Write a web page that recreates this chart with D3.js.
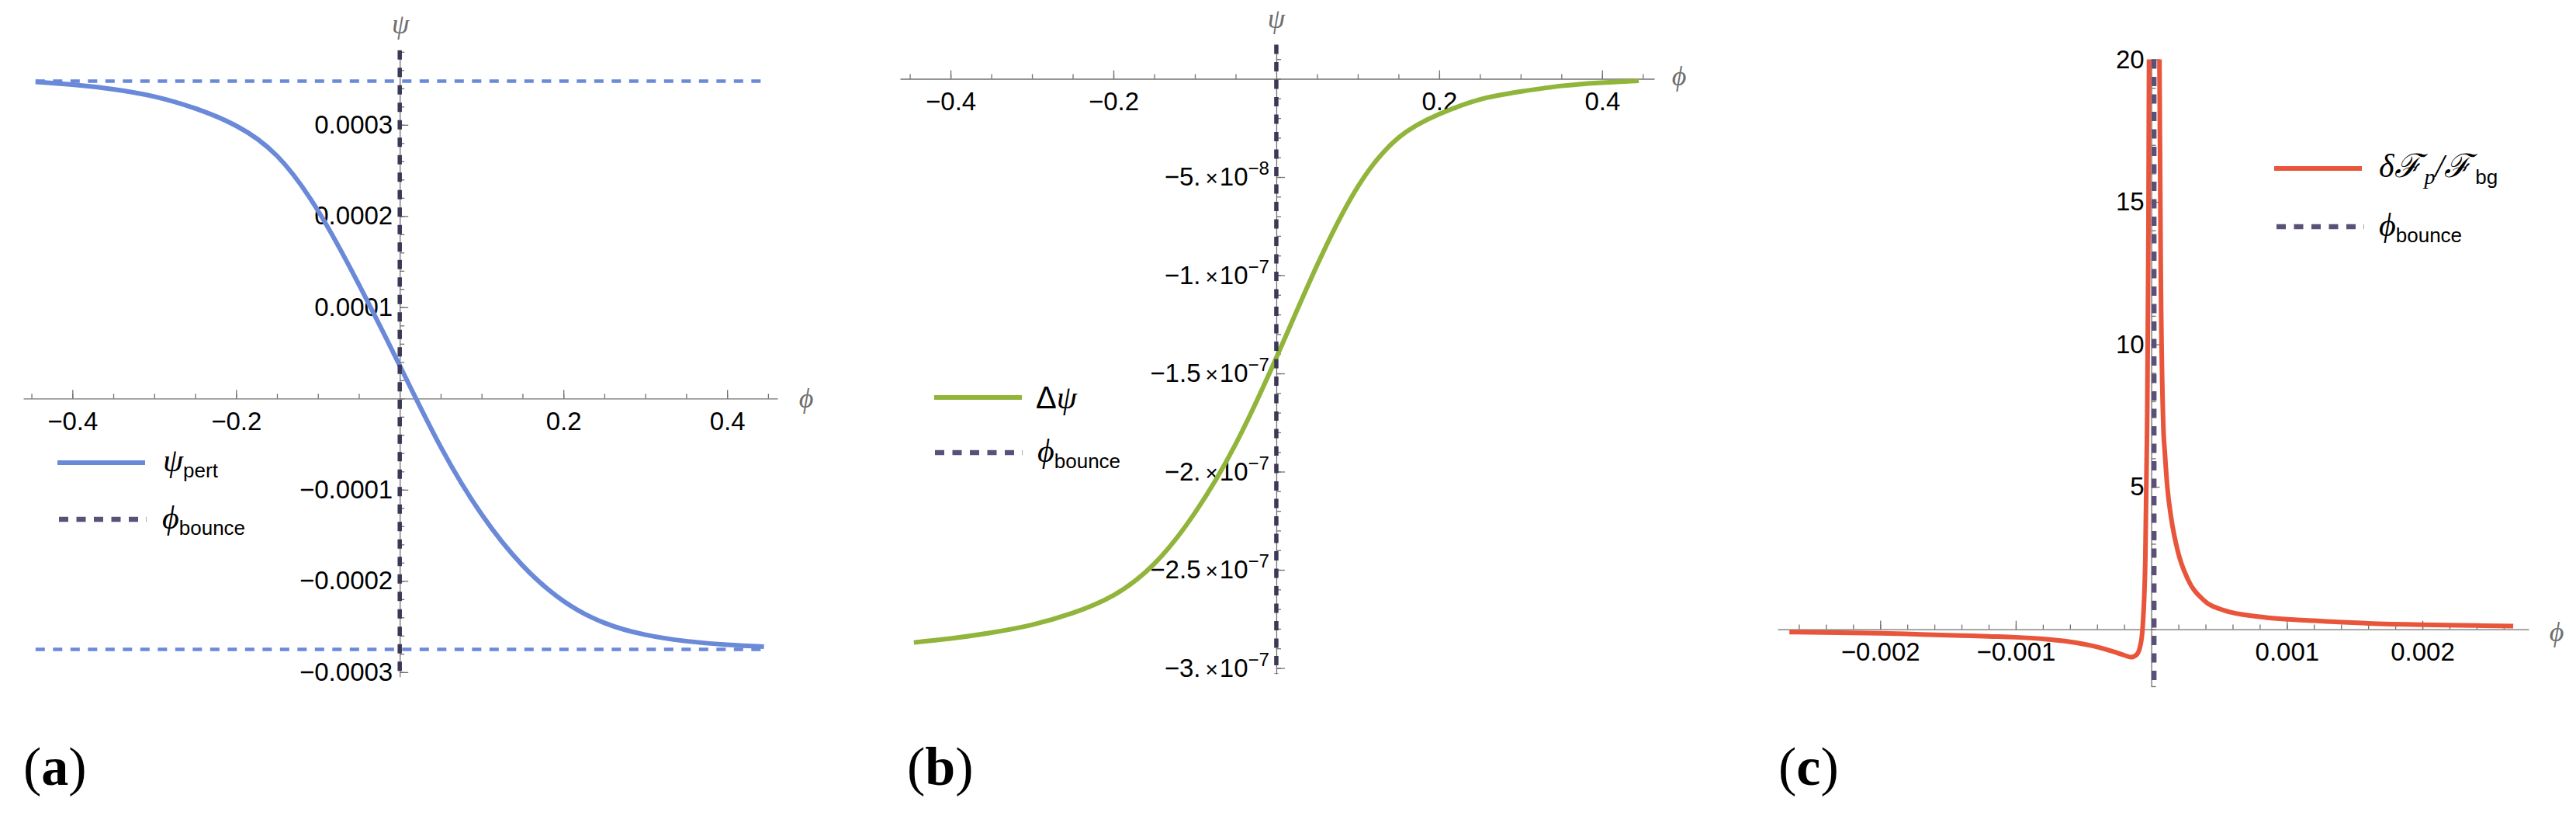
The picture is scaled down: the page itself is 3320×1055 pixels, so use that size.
<!DOCTYPE html>
<html>
<head>
<meta charset="utf-8">
<script src="https://cdn.jsdelivr.net/npm/d3@7"></script>
<style>
  body { margin: 0; background: #fff; }
  svg { display: block; background: #fff; }
</style>
</head>
<body>
<svg></svg>
<script>
const [svgWidth, svgHeight] = [3320, 1055];
const svg = d3.select('svg')
  .attr('width', svgWidth)
  .attr('height', svgHeight);

// ---------- data: panel (a)
const phiA = [-0.445, -0.4, -0.35, -0.3, -0.25, -0.2, -0.15, -0.1, -0.05, 0, 0.05, 0.1, 0.15, 0.2, 0.25, 0.3, 0.35, 0.4, 0.445];
const psiPert = [3.47e-4, 3.44e-4, 3.39e-4, 3.31e-4, 3.18e-4, 2.99e-4, 2.66e-4, 2.06e-4, 1.25e-4, 0.36e-4,
  -0.53e-4, -1.27e-4, -1.83e-4, -2.22e-4, -2.46e-4, -2.59e-4, -2.66e-4, -2.70e-4, -2.72e-4];
const psiLimits = [3.48e-4, -2.75e-4];
const xTicksA = [-0.4, -0.2, 0.2, 0.4];
const yTicksA = [-3e-4, -2e-4, -1e-4, 1e-4, 2e-4, 3e-4];

// ---------- data: panel (b)
const phiB = [-0.445, -0.4, -0.35, -0.3, -0.25, -0.2, -0.15, -0.1, -0.05, 0, 0.05, 0.1, 0.15, 0.2, 0.25, 0.3, 0.35, 0.4, 0.445];
const deltaPsi = [-2.87e-7, -2.85e-7, -2.82e-7, -2.78e-7, -2.72e-7, -2.63e-7, -2.47e-7, -2.21e-7, -1.86e-7, -1.42e-7,
  -0.95e-7, -0.55e-7, -0.30e-7, -0.18e-7, -0.105e-7, -0.065e-7, -0.036e-7, -0.02e-7, -0.01e-7];
const xTicksB = [-0.4, -0.2, 0.2, 0.4];
const yTicksB = [-5e-8, -1e-7, -1.5e-7, -2e-7, -2.5e-7, -3e-7];
const yTickMantB = ['\u22125.', '\u22121.', '\u22121.5', '\u22122.', '\u22122.5', '\u22123.'];
const yTickExpB = ['\u22128', '\u22127', '\u22127', '\u22127', '\u22127', '\u22127'];

// ---------- data: panel (c)
const phiC = [-0.00267, -0.0022, -0.002, -0.0017, -0.0014, -0.0012, -0.001, -0.0008, -0.0006, -0.0004,
  -0.00027, -0.0002, -0.00015, -0.00011, -0.00008, -0.000065, -0.000044, -0.000031, -0.000021, -0.000015,
  0.00002, 0.000055, 0.00006, 0.00007, 0.000089, 0.0001, 0.000118, 0.000147, 0.000195, 0.00027,
  0.000385, 0.00054, 0.0008, 0.0012, 0.0016, 0.002, 0.0024, 0.00267];
const fluxRatio = [-0.10, -0.125, -0.14, -0.18, -0.22, -0.25, -0.28, -0.34, -0.44, -0.62,
  -0.80, -0.91, -0.98, -0.90, -0.55, 0, 2.5, 7.1, 14, 22,
  30, 22, 20, 12.5, 7.1, 6.2, 5.0, 3.9, 2.75, 1.75,
  1.03, 0.66, 0.44, 0.30, 0.21, 0.16, 0.13, 0.11];
const xTicksC = [-0.002, -0.001, 0.001, 0.002];
const yTicksC = [5, 10, 15, 20];
const phiBounceC = 0.00002;

// ---------- styles
const axisColor = '#707070';
const sans = '"Liberation Sans", Arial, sans-serif';
const serif = '"Liberation Serif", "DejaVu Serif", serif';
const blue = '#6a89d9';
const green = '#91b43a';
const red = '#e8553a';
const bounceDark = '#3a3956';
const bounceLegend = '#5b5178';
const dash = '12,10.5';

const styleAxis = (ax) => {
  ax.selectAll('line, path').attr('stroke', axisColor).attr('stroke-width', 1.3);
  ax.selectAll('text')
    .attr('fill', '#000')
    .attr('font-family', sans)
    .attr('font-size', 33);
};

const drawXAxis = (g, x, y0, major, minor, fmt) => {
  const ax = g.append('g').attr('transform', `translate(0,${y0})`);
  ax.call(d3.axisBottom(x).tickValues(minor).tickSizeInner(-6).tickSizeOuter(0).tickFormat(''));
  const maj = ax.append('g')
    .call(d3.axisBottom(x).tickValues(major).tickSizeInner(-11).tickSizeOuter(0).tickPadding(17).tickFormat(fmt));
  maj.select('.domain').remove();
  styleAxis(ax);
  return ax;
};

const drawYAxis = (g, y, x0, major, minor, fmt) => {
  const ax = g.append('g').attr('transform', `translate(${x0},0)`);
  ax.call(d3.axisLeft(y).tickValues(minor).tickSizeInner(-6).tickSizeOuter(0).tickFormat(''));
  const maj = ax.append('g')
    .call(d3.axisLeft(y).tickValues(major).tickSizeInner(-11).tickSizeOuter(0).tickPadding(9).tickFormat(fmt));
  maj.select('.domain').remove();
  styleAxis(ax);
  return maj;
};

const axisLabel = (g, x, y, txt) => {
  g.append('text')
    .attr('x', x).attr('y', y)
    .attr('text-anchor', 'middle')
    .attr('font-family', serif)
    .attr('font-style', 'italic')
    .attr('font-size', 36)
    .attr('fill', '#6e6e6e')
    .text(txt);
};

const legendLine = (g, x, y, color, dashed) => {
  g.append('line')
    .attr('x1', x).attr('x2', x + 113)
    .attr('y1', y).attr('y2', y)
    .attr('stroke', color)
    .attr('stroke-width', dashed ? 6.5 : 6)
    .attr('stroke-dasharray', dashed ? dash : null);
};

const symbolText = (g, x, y, main, sub) => {
  const t = g.append('text').attr('x', x).attr('y', y).attr('fill', '#000');
  t.append('tspan')
    .attr('font-family', serif).attr('font-style', 'italic').attr('font-size', 42)
    .text(main);
  if (sub) {
    t.append('tspan')
      .attr('font-family', sans).attr('font-size', 26).attr('dy', 8)
      .text(sub);
  }
  return t;
};

const panelLabel = (x, letter) => {
  const t = svg.append('text')
    .attr('x', x).attr('y', 1011)
    .attr('font-family', serif)
    .attr('font-size', 70)
    .attr('fill', '#000');
  t.append('tspan').text('(');
  t.append('tspan').attr('font-weight', 'bold').text(letter);
  t.append('tspan').text(')');
};

const line = (x, y, curve) => d3.line()
  .x(d => x(d[0]))
  .y(d => y(d[1]))
  .curve(curve);

// ================= panel (a)
const gA = svg.append('g');
const xA = d3.scaleLinear().domain([-0.46, 0.4615]).range([30, 1002]);
const yA = d3.scaleLinear().domain([-3.05e-4, 3.8e-4]).range([871.7, 66.8]);

drawXAxis(gA, xA, yA(0), xTicksA, d3.range(-0.45, 0.4501, 0.05).filter(v => Math.abs(v) > 1e-9), d3.format('.1f'));
drawYAxis(gA, yA, xA(0), yTicksA, d3.range(-3e-4, 3.81e-4, 2e-5), d3.format('.4f'));
axisLabel(gA, xA(0) + 1, 43, 'ψ');
axisLabel(gA, 1039, 525, 'ϕ');

gA.selectAll('line.limit')
  .data(psiLimits)
  .enter()
  .append('line')
  .classed('limit', true)
  .attr('x1', xA(phiA[0])).attr('x2', xA(phiA[phiA.length - 1]))
  .attr('y1', d => yA(d)).attr('y2', d => yA(d))
  .attr('stroke', blue)
  .attr('stroke-width', 4.5)
  .attr('stroke-dasharray', dash);

gA.append('path')
  .datum(d3.zip(phiA, psiPert))
  .attr('d', line(xA, yA, d3.curveNatural))
  .attr('fill', 'none')
  .attr('stroke', blue)
  .attr('stroke-width', 6);

gA.append('line')
  .attr('x1', xA(0)).attr('x2', xA(0))
  .attr('y1', yA.range()[1] - 2).attr('y2', yA.range()[0])
  .attr('stroke', bounceDark)
  .attr('stroke-width', 5.5)
  .attr('stroke-dasharray', dash);

legendLine(gA, 74, 596, blue, false);
symbolText(gA, 210, 607, 'ψ', 'pert');
legendLine(gA, 76, 669, bounceLegend, true);
symbolText(gA, 209, 681, 'ϕ', 'bounce');

// ================= panel (b)
const gB = svg.append('g');
const xB = d3.scaleLinear().domain([-0.462, 0.464]).range([1160, 2132]);
const yB = d3.scaleLinear().domain([-3.03e-7, 1.74e-8]).range([868.1, 57.5]);

drawXAxis(gB, xB, yB(0), xTicksB, d3.range(-0.45, 0.4501, 0.05).filter(v => Math.abs(v) > 1e-9), d3.format('.1f'));
const yAxB = drawYAxis(gB, yB, xB(0), yTicksB, d3.range(-3e-7, 1.5e-8, 1e-8), () => '');
yAxB.selectAll('.tick text')
  .each(function(d, i) {
    const t = d3.select(this);
    t.append('tspan').text(yTickMantB[i]);
    t.append('tspan').attr('dx', 6).attr('font-size', 28).text('\u00d7');
    t.append('tspan').attr('dx', 2).text('10');
    t.append('tspan').attr('font-size', 24).attr('dy', -14).text(yTickExpB[i]);
  });
axisLabel(gB, xB(0), 36, 'ψ');
axisLabel(gB, 2164, 110, 'ϕ');

gB.append('path')
  .datum(d3.zip(phiB, deltaPsi))
  .attr('d', line(xB, yB, d3.curveNatural))
  .attr('fill', 'none')
  .attr('stroke', green)
  .attr('stroke-width', 6);

gB.append('line')
  .attr('x1', xB(0)).attr('x2', xB(0))
  .attr('y1', yB.range()[1]).attr('y2', yB.range()[0])
  .attr('stroke', bounceDark)
  .attr('stroke-width', 5.5)
  .attr('stroke-dasharray', dash);

legendLine(gB, 1204, 512, green, false);
const tB = gB.append('text').attr('x', 1335).attr('y', 526).attr('fill', '#000');
tB.append('tspan').attr('font-family', sans).attr('font-size', 40).text('Δ');
tB.append('tspan').attr('font-family', serif).attr('font-style', 'italic').attr('font-size', 42).text('ψ');
legendLine(gB, 1205, 583, bounceLegend, true);
symbolText(gB, 1337, 595, 'ϕ', 'bounce');

// ================= panel (c)
const gC = svg.append('g');
const xC = d3.scaleLinear().domain([-0.002757, 0.002784]).range([2291, 3259]);
const yC = d3.scaleLinear().domain([-2, 20]).range([884, 76.6]);

svg.append('clipPath').attr('id', 'clipC')
  .append('rect')
  .attr('x', xC.range()[0]).attr('y', yC(20))
  .attr('width', xC.range()[1] - xC.range()[0])
  .attr('height', yC(-2) - yC(20));

drawXAxis(gC, xC, yC(0), xTicksC, d3.range(-0.0026, 0.00261, 0.0002).filter(v => Math.abs(v) > 1e-9), d3.format('.3f'));
drawYAxis(gC, yC, xC(0), yTicksC, d3.range(-2, 20.01, 1), d3.format('d'));
axisLabel(gC, 3295, 826, 'ϕ');

gC.append('path')
  .datum(d3.zip(phiC, fluxRatio))
  .attr('clip-path', 'url(#clipC)')
  .attr('d', line(xC, yC, d3.curveMonotoneX))
  .attr('fill', 'none')
  .attr('stroke', red)
  .attr('stroke-width', 6);

gC.append('line')
  .attr('x1', xC(phiBounceC)).attr('x2', xC(phiBounceC))
  .attr('y1', yC(20)).attr('y2', yC(-2))
  .attr('stroke', bounceLegend)
  .attr('stroke-width', 6.5)
  .attr('stroke-dasharray', dash);

legendLine(gC, 2931, 217, red, false);
const tC = gC.append('text').attr('x', 3066).attr('y', 228).attr('fill', '#000');
tC.append('tspan').attr('font-family', serif).attr('font-style', 'italic').attr('font-size', 42).text('δℱ');
tC.append('tspan').attr('font-family', serif).attr('font-style', 'italic').attr('font-size', 28).attr('dx', 4).attr('dy', 9).text('p');
tC.append('tspan').attr('font-family', serif).attr('font-style', 'italic').attr('font-size', 42).attr('dy', -9).text('/ℱ');
tC.append('tspan').attr('font-family', sans).attr('font-size', 26).attr('dx', 5).attr('dy', 9).text('bg');
legendLine(gC, 2934, 292, bounceLegend, true);
symbolText(gC, 3066, 304, 'ϕ', 'bounce');

// ================= panel labels
panelLabel(30, 'a');
panelLabel(1169, 'b');
panelLabel(2292, 'c');
</script>
</body>
</html>
